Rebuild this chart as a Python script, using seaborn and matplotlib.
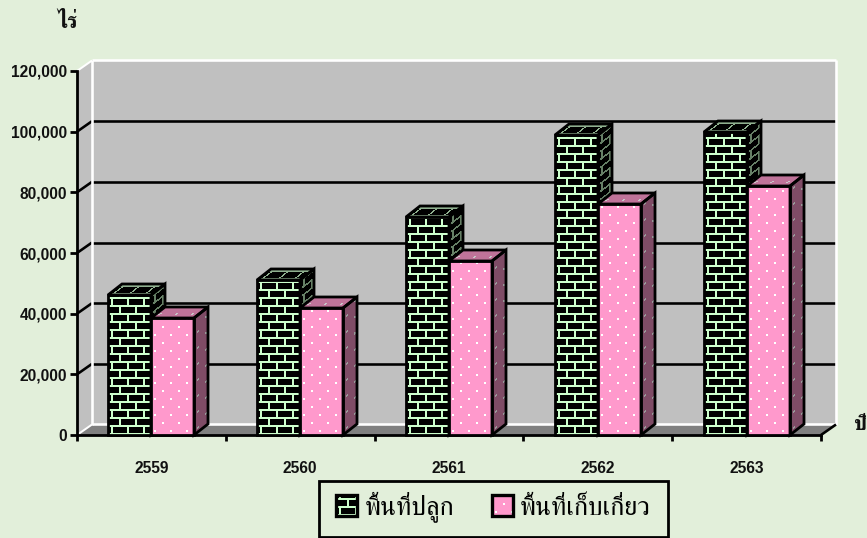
import numpy as np
import pandas as pd
import matplotlib
matplotlib.use('Agg')
import matplotlib.pyplot as plt
import seaborn as sns
from matplotlib.image import AxesImage
from matplotlib.patches import Patch, Polygon
from matplotlib.lines import Line2D
from matplotlib.ticker import FuncFormatter
from matplotlib.transforms import Affine2D, IdentityTransform

years = ['2559', '2560', '2561', '2562', '2563']
planted = [46000, 51000, 72000, 99000, 100000]
harvested = [38500, 42000, 57500, 76000, 82000]
series_names = ['พื้นที่ปลูก', 'พื้นที่เก็บเกี่ยว']
y_ticks = [0, 20000, 40000, 60000, 80000, 100000, 120000]
y_unit = 'ไร่'
x_unit = 'ปี'

BG = '#E2EFDA'
THAI = ['FreeSerif', 'Loma', 'DejaVu Sans']
W, H = 867, 538
DX, DY = 15, 10.5      # wall depth, pixels
BX, BY = 14, 11        # bar depth, pixels

sns.set_theme(style='white')
plt.rcParams['font.family'] = ['Liberation Sans', 'DejaVu Sans']

fig = plt.figure(figsize=(W / 100, H / 100), dpi=100, facecolor=BG)
ax = fig.add_axes([77 / W, 1 - 435 / H, (821 - 77) / W, (435 - 71) / H])
ax.set_facecolor('none')

df = pd.DataFrame({
    'year': years * 2,
    'area': planted + harvested,
    'series': [series_names[0]] * len(years) + [series_names[1]] * len(years),
})
sns.barplot(data=df, x='year', y='area', hue='series', order=years,
            palette=['#CCFFCC', '#FF99CC'], width=0.578, gap=0, saturation=1,
            legend=False, ax=ax, errorbar=None)
ax.set_xlim(-0.5, len(years) - 0.5)
ax.set_ylim(0, 120000)
ax.set_xlabel('')
ax.set_ylabel('')

ax.set_yticks(y_ticks)
ax.yaxis.set_major_formatter(FuncFormatter(lambda v, _: f'{int(v):,}'))
ax.set_xticks(range(len(years)))
ax.set_xticklabels(years)
ax.set_xticks(np.arange(len(years) + 1) - 0.5, minor=True)
ax.tick_params(axis='x', which='major', length=0, pad=19)
ax.tick_params(axis='x', which='minor', length=4.5, width=2, color='black', bottom=True)
ax.tick_params(axis='y', length=5, width=2, color='black', pad=2, left=True)
for t in ax.get_xticklabels() + ax.get_yticklabels():
    t.set_fontsize(11.2)
    t.set_fontweight('bold')
    t.set_color('#111111')
for s in ('top', 'right'):
    ax.spines[s].set_visible(False)
for s in ('left', 'bottom'):
    ax.spines[s].set_color('black')
    ax.spines[s].set_linewidth(2)
    ax.spines[s].set_zorder(2.5)

bars = list(ax.patches)
fig.canvas.draw()
renderer = fig.canvas.get_renderer()
ID = IdentityTransform()


def to_px(x, y):
    return ax.transData.transform((x, y))


# walls and floor ------------------------------------------------------------
x0, x1 = ax.get_xlim()
y0, y1 = ax.get_ylim()
(fx0, fy0), (fx1, fy1) = to_px(x0, y0), to_px(x1, y1)


def poly(pts, fc, ec='none', lw=0, z=0.5):
    p = Polygon(pts, closed=True, facecolor=fc, edgecolor=ec, linewidth=lw,
                transform=ID, clip_on=False, zorder=z, joinstyle='miter')
    ax.add_patch(p)
    return p


def seg(a, b, color='black', lw=2, z=1):
    ax.add_line(Line2D([a[0], b[0]], [a[1], b[1]], color=color, lw=lw * 0.72, transform=ID,
                       clip_on=False, zorder=z, solid_capstyle='butt'))


poly([(fx0 + DX, fy0 + DY), (fx1 + DX, fy0 + DY), (fx1 + DX, fy1 + DY), (fx0 + DX, fy1 + DY)], '#C0C0C0')
poly([(fx0, fy0), (fx0 + DX, fy0 + DY), (fx0 + DX, fy1 + DY), (fx0, fy1)], '#C0C0C0')
poly([(fx0, fy0), (fx1, fy0), (fx1 + DX, fy0 + DY), (fx0 + DX, fy0 + DY)], '#808080')

for v in y_ticks[1:-1]:
    _, py = to_px(0, v)
    seg((fx0, py), (fx0 + DX, py + DY), 'black', 2.6)
    seg((fx0 + DX, py + DY), (fx1 + DX, py + DY), 'black', 2.6)
# pale outline of the walls
seg((fx0 + DX, fy1 + DY), (fx1 + DX, fy1 + DY), 'white', 2.6, 1.2)
seg((fx0, fy1), (fx0 + DX, fy1 + DY), 'white', 2, 1.2)
seg((fx0 + DX, fy0 + DY), (fx0 + DX, fy1 + DY), 'white', 2.6, 1.2)
seg((fx1 + DX, fy0 + DY), (fx1 + DX, fy1 + DY), 'white', 2.6, 1.2)
seg((fx0 + DX, fy0 + DY + 1), (fx1 + DX, fy0 + DY + 1), 'white', 2.6, 1.2)
seg((fx0, fy0), (fx0 + DX, fy0 + DY), 'white', 2, 1.2)
seg((fx1, fy0), (fx1 + DX, fy0 + DY), 'black', 2.6, 1.3)


# fill patterns ----------------------------------------------------------------
def rgb(c):
    return np.array(matplotlib.colors.to_rgb(c))


def brick_tile(mortar, brick='#000000'):
    t = np.tile(rgb(brick), (16, 16, 1))
    m = rgb(mortar)
    t[0:2, :] = m
    t[8:10, :] = m
    t[2:8, 3:5] = m
    t[10:16, 11:13] = m
    return t


def dot_tile(base, dot):
    t = np.tile(rgb(base), (16, 16, 1))
    d = rgb(dot)
    t[3:5, 3:5] = d
    t[11:13, 11:13] = d
    return t


def fill_face(origin, u, v, lu, lv, tile, z, clip_pts):
    """Paint `tile` on the parallelogram origin + s*u + t*v, s in 0..lu, t in 0..lv."""
    nr = int(np.ceil(lv / 16)) + 1
    nc = int(np.ceil(lu / 16)) + 1
    arr = np.tile(tile, (nr, nc, 1))
    im = AxesImage(ax, interpolation='nearest', origin='lower')
    im.set_data(arr)
    im.set_extent((0, arr.shape[1], 0, arr.shape[0]))
    m = np.array([[u[0], v[0], origin[0]], [u[1], v[1], origin[1]], [0, 0, 1.0]])
    im.set_transform(Affine2D(m))
    im.set_zorder(z)
    im.set_clip_box(fig.bbox)
    clip = Polygon(clip_pts, closed=True, transform=ID)
    im.set_clip_path(clip)
    ax.add_image(im)


styles = {
    0: dict(front=brick_tile('#CCFFCC'), side=brick_tile('#668066'), top=brick_tile('#8FB08F'), z=3),
    1: dict(front=dot_tile('#FF99CC', '#FFFFFF'), side=dot_tile('#7F4C66', '#999999'),
            top=dot_tile('#BF7399', '#C8C8C8'), z=4),
}

n = len(years)
for i, bar in enumerate(bars):
    st = styles[0 if i < n else 1]
    z = st['z']
    e = bar.get_window_extent(renderer)
    L, R, B, T = round(e.x0), round(e.x1), round(e.y0), round(e.y1)
    bar.set_facecolor('none')
    bar.set_edgecolor('none')
    fill_face((L, B), (1, 0), (0, 1), R - L, T - B, st['front'], z,
              [(L, B), (R, B), (R, T), (L, T)])
    fill_face((R, B), (1, BY / BX), (0, 1), BX, T - B + BY, st['side'], z + 0.01,
              [(R, B), (R + BX, B + BY), (R + BX, T + BY), (R, T)])
    fill_face((L, T), (1, 0), (BX / BY, 1), R - L + BX, BY, st['top'], z + 0.01,
              [(L, T), (R, T), (R + BX, T + BY), (L + BX, T + BY)])
    for pts in ([(L, B), (R, B), (R, T), (L, T)],
                [(R, B), (R + BX, B + BY), (R + BX, T + BY), (R, T)],
                [(L, T), (R, T), (R + BX, T + BY), (L + BX, T + BY)]):
        poly(pts, 'none', 'black', 2, z + 0.02)

# unit labels -------------------------------------------------------------------
fig.text(57 / W, 1 - 28 / H, y_unit, family=THAI, fontsize=15.5, fontweight='bold',
         color='#111111', ha='left', va='baseline')
fig.text(854 / W, 1 - 430 / H, x_unit, family=THAI, fontsize=15, fontweight='bold',
         color='#111111', ha='left', va='baseline')

# legend -------------------------------------------------------------------------
poly([(319, 1), (668, 1), (668, 57), (319, 57)], BG, 'black', 2, 4.9)
handles = [Patch(facecolor='#CCFFCC', edgecolor='black', label=series_names[0]),
           Patch(facecolor='#FF99CC', edgecolor='black', label=series_names[1])]
leg = ax.legend(handles=handles, ncol=2, loc='center',
                bbox_to_anchor=(319, 3, 349, 56), bbox_transform=ID,
                prop={'family': THAI, 'size': 19}, frameon=False,
                borderpad=0, handlelength=0.8, handleheight=0.8, handletextpad=0.27,
                columnspacing=1.44, borderaxespad=0, labelcolor='black')
fig.canvas.draw()
for h, tile in zip(leg.legend_handles, (brick_tile('#CCFFCC'), dot_tile('#FF99CC', '#FFFFFF'))):
    e = h.get_window_extent(renderer)
    L, R, B, T = e.x0, e.x1, e.y0, e.y1
    fill_face((L, B), (1, 0), (0, 1), R - L, T - B, tile, 6, [(L, B), (R, B), (R, T), (L, T)])
    poly([(L, B), (R, B), (R, T), (L, T)], 'none', 'black', 2.4, 6.1)

fig.savefig('out.png', dpi=100, facecolor=BG)
